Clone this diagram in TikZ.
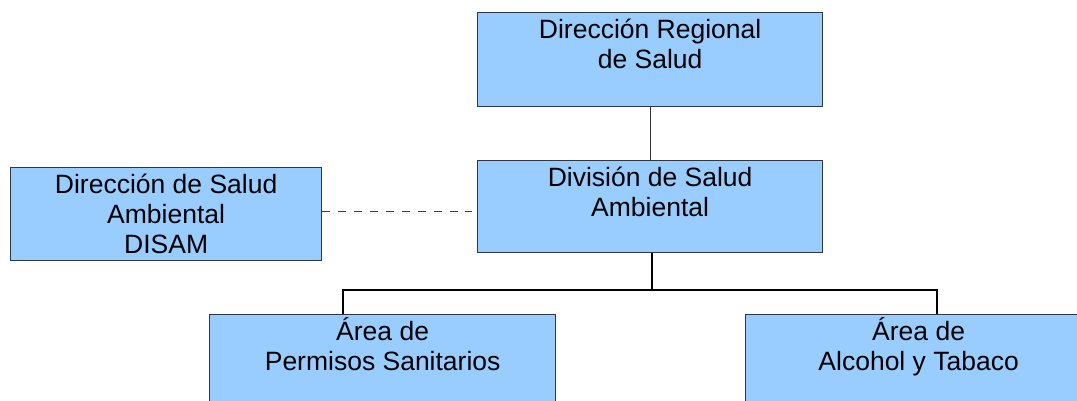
\documentclass[tikz,border=0pt]{standalone}
\usepackage{fontspec}
\setmainfont{Liberation Sans}
\usetikzlibrary{calc}
\definecolor{boxfill}{RGB}{153,204,255}
\definecolor{boxline}{RGB}{45,55,70}
\newcommand\orgtext[3]{\parbox[t][#2][t]{#1}{\centering\rule{0pt}{26pt}#3}}
\tikzset{
  orgbox/.style={draw=boxline, line width=1.3pt, fill=boxfill, inner sep=0pt, anchor=north west,
    font=\fontsize{26.5pt}{30pt}\selectfont},
  link/.style={black, line width=1.3pt},
  thinlink/.style={black!80, line width=0.9pt},
  dashlink/.style={black!75, line width=0.9pt, dash pattern=on 8pt off 7.9pt}
}
\begin{document}
\begin{tikzpicture}[x=1pt,y=-1pt]
\clip (0,0) rectangle (1077,400);
\useasboundingbox (0,0) rectangle (1077,400);
\fill[white] (0,0) rectangle (1077,400);
\node[orgbox] (top) at (477,12) {\orgtext{345pt}{94pt}{Dirección Regional\\de Salud}};
\node[orgbox] (mid) at (477,160) {\orgtext{345pt}{92pt}{División de Salud\\Ambiental}};
\node[orgbox] (left) at (10,167) {\orgtext{311pt}{93pt}{Dirección de Salud\\Ambiental\\DISAM}};
\node[orgbox] (bl) at (209,314) {\orgtext{346pt}{110pt}{Área de\\Permisos Sanitarios}};
\node[orgbox] (br) at (745,314) {\orgtext{346pt}{110pt}{Área de\\Alcohol y Tabaco}};
\coordinate (jm) at (652,290);
\coordinate (jl) at (343,290);
\coordinate (jr) at (937,290);
\draw[thinlink] (top.south) -- (mid.north);
\draw[link] (mid.south -| jm) -- (jm);
\draw[link] (jl |- bl.north) -- (jl) -- (jr) -- (jr |- br.north);
\draw[dashlink, shorten >=5pt] ([yshift=2.5pt]left.east) -- ([yshift=2.5pt]left.east -| mid.west);
\end{tikzpicture}
\end{document}
